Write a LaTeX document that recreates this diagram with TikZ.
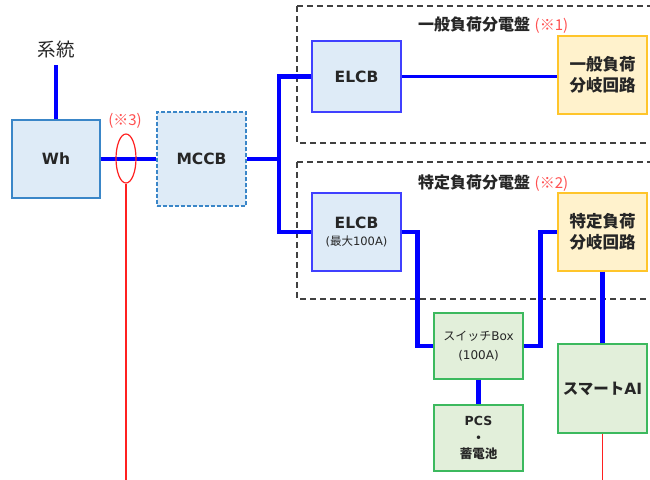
\documentclass[tikz,border=0pt]{standalone}
\usepackage{fontspec}
\setmainfont{DejaVu Sans}
\newfontfamily\jp{Noto Sans CJK JP}
\usetikzlibrary{shapes.geometric}
\definecolor{txt}{HTML}{262626}
\definecolor{lblue}{HTML}{DEEBF7}
\definecolor{whb}{HTML}{3A86C8}
\definecolor{elcbb}{HTML}{4040FF}
\definecolor{yfill}{HTML}{FFF2CC}
\definecolor{ybord}{HTML}{FFC52A}
\definecolor{gfill}{HTML}{E2EFDA}
\definecolor{gbord}{HTML}{3CB95E}
\definecolor{wire}{HTML}{0000FF}
\definecolor{redline}{HTML}{FF2020}
\definecolor{redtxt}{HTML}{FF5050}
\definecolor{dashgray}{HTML}{404040}
\tikzset{
  box/.style={rectangle, draw, line width=1.3pt, inner sep=0pt, text=txt, align=center, font=\bfseries},
  bluebox/.style={box, fill=lblue, draw=whb},
  elcbbox/.style={box, fill=lblue, draw=elcbb},
  ybox/.style={box, fill=yfill, draw=ybord},
  gbox/.style={box, fill=gfill, draw=gbord},
  bus/.style={draw=wire, line width=4.5pt, line join=miter},
  thinbus/.style={draw=wire, line width=2.8pt},
  redwire/.style={draw=redline, line width=1.2pt},
  panel/.style={draw=dashgray, line width=1.2pt, dash pattern=on 6pt off 4pt},
}
\begin{document}
\begin{tikzpicture}[x=1pt,y=-1pt]
\useasboundingbox (0,0) rectangle (650,479);
\clip (0,0) rectangle (650,479);
\fill[white] (0,0) rectangle (650,479);
% panels
\draw[panel] (297,6) -- (660,6) (297,6) -- (297,143) -- (660,143);
\draw[panel] (297,162) -- (660,162) (297,162) -- (297,299) -- (660,299);
\node[text=txt, font=\fontsize{16}{18}\selectfont\bfseries, anchor=base] (t1) at (474,30) {\jp 一般負荷分電盤};
\node[text=redtxt, font=\fontsize{15}{18}\selectfont, anchor=base west, inner sep=1pt] (r1) at (t1.base east) {\jp (※1)};
\node[text=txt, font=\fontsize{16}{18}\selectfont\bfseries, anchor=base] (t2) at (474,188) {\jp 特定負荷分電盤};
\node[text=redtxt, font=\fontsize{15}{18}\selectfont, anchor=base west, inner sep=1pt] (r2) at (t2.base east) {\jp (※2)};
% nodes
\node[text=txt, font=\fontsize{18.5}{20}\selectfont] (grid) at (56,50) {\jp 系統};
\coordinate (gridend) at (56,65);
\node[bluebox, minimum width=88pt, minimum height=78pt, font=\fontsize{15.5}{18}\selectfont\bfseries] (wh) at (56,159) {Wh};
\node[box, fill=lblue, draw=whb, dash pattern=on 4pt off 2pt, minimum width=89pt, minimum height=94pt, font=\fontsize{15.5}{18}\selectfont\bfseries] (mccb) at (201.5,159) {MCCB};
\node[text=redtxt, font=\fontsize{15}{16}\selectfont, inner sep=0pt] (r3) at (125,121) {\jp (※3)};
\coordinate (ctend) at (126,485);
\node[elcbbox, minimum width=89pt, minimum height=71pt, font=\fontsize{15.5}{18}\selectfont\bfseries] (elcb1) at (356.5,76.5) {ELCB};
\node[ybox, minimum width=89pt, minimum height=78pt, font=\fontsize{16.5}{21}\selectfont\bfseries] (gen) at (602.5,75) {\jp 一般負荷\\\jp 分岐回路};
\node[elcbbox, minimum width=89pt, minimum height=78pt, font=\fontsize{15.5}{18}\selectfont\bfseries] (elcb2) at (356.5,232) {ELCB\\[-1pt]{\fontsize{11.5}{13}\selectfont\mdseries ({\jp 最大}100A)}};
\node[ybox, minimum width=89pt, minimum height=78pt, font=\fontsize{16.5}{21}\selectfont\bfseries] (spec) at (602.5,232) {\jp 特定負荷\\\jp 分岐回路};
\node[gbox, minimum width=89pt, minimum height=66pt, font=\fontsize{12}{19}\selectfont\mdseries] (sw) at (478.5,346) {{\jp スイッチ}Box\\(100A)};
\node[gbox, minimum width=89pt, minimum height=66pt, font=\fontsize{12.5}{16.5}\selectfont\bfseries] (pcs) at (478.5,438) {PCS\\{\jp ・}\\{\jp\bfseries 蓄電池}};
\node[gbox, minimum width=89pt, minimum height=89pt, font=\fontsize{15.5}{18}\selectfont\bfseries] (ai) at (602.5,388.5) {{\jp スマート}AI};
\coordinate (aiend) at (602.5,485);
\coordinate (busp) at (279,159);
% wires
\draw[bus] (wh.north) -- (gridend);
\draw[bus] (wh.east) -- (mccb.west);
\draw[bus] (mccb.east) -- (busp);
\draw[bus] (elcb1.west) -| (busp) |- (elcb2.west);
\draw[thinbus] (elcb1.east) -- (elcb1.east -| gen.west);
\draw[bus] (elcb2.east) -- ++(16,0) |- (sw.west);
\draw[bus] (sw.east) -- ++(17,0) |- (spec.west);
\draw[bus] (sw.south) -- (pcs.north);
\draw[bus] (spec.south) -- (ai.north);
\node[ellipse, draw=redline, line width=1.2pt, minimum width=20pt, minimum height=49pt, inner sep=0pt] (ct) at (126,158.5) {};
\draw[redwire] (ct.south) -- (ctend);
\draw[redwire] (ai.south) -- (aiend);
\end{tikzpicture}
\end{document}
